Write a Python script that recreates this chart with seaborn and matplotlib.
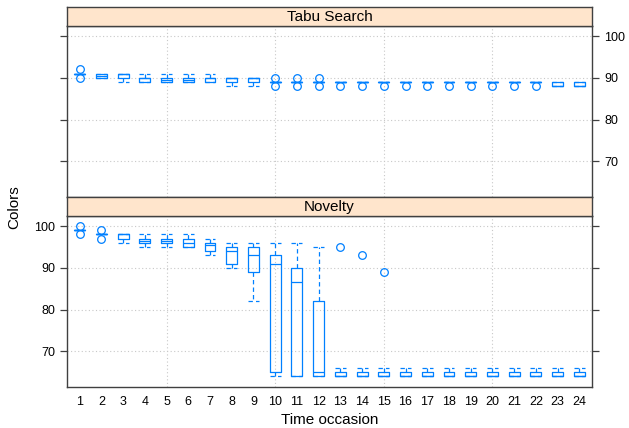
import matplotlib
matplotlib.use("Agg")
import matplotlib.pyplot as plt
import seaborn as sns
import pandas as pd

# Colors reached by ten runs at each time occasion
occasions = list(range(1, 25))

tabu_runs = [
    [90, 91, 91, 91, 91, 91, 91, 91, 91, 92],
    [90, 90, 90, 90, 90, 91, 91, 91, 91, 91],
    [89, 90, 90, 90, 91, 91, 91, 91, 91, 91],
    [89, 89, 89, 89, 90, 90, 90, 90, 90, 91],
    [89, 89, 89, 89, 89, 90, 90, 90, 90, 91],
    [89, 89, 89, 89, 89, 90, 90, 90, 90, 91],
    [89, 89, 89, 89, 90, 90, 90, 90, 90, 91],
    [88, 89, 89, 89, 90, 90, 90, 90, 90, 90],
    [88, 89, 89, 89, 90, 90, 90, 90, 90, 90],
    [88, 89, 89, 89, 89, 89, 89, 89, 89, 90],
    [88, 89, 89, 89, 89, 89, 89, 89, 89, 90],
    [88, 89, 89, 89, 89, 89, 89, 89, 89, 90],
    [88, 89, 89, 89, 89, 89, 89, 89, 89, 89],
    [88, 89, 89, 89, 89, 89, 89, 89, 89, 89],
    [88, 89, 89, 89, 89, 89, 89, 89, 89, 89],
    [88, 89, 89, 89, 89, 89, 89, 89, 89, 89],
    [88, 89, 89, 89, 89, 89, 89, 89, 89, 89],
    [88, 89, 89, 89, 89, 89, 89, 89, 89, 89],
    [88, 89, 89, 89, 89, 89, 89, 89, 89, 89],
    [88, 89, 89, 89, 89, 89, 89, 89, 89, 89],
    [88, 89, 89, 89, 89, 89, 89, 89, 89, 89],
    [88, 89, 89, 89, 89, 89, 89, 89, 89, 89],
    [88, 88, 88, 88, 88, 88, 89, 89, 89, 89],
    [88, 88, 88, 88, 88, 88, 89, 89, 89, 89],
]

novelty_runs = [
    [98, 99, 99, 99, 99, 99, 99, 99, 99, 100],
    [97, 98, 98, 98, 98, 98, 98, 98, 98, 99],
    [96, 97, 97, 97, 98, 98, 98, 98, 98, 98],
    [95, 96, 96, 96, 96, 97, 97, 97, 97, 98],
    [95, 96, 96, 96, 96, 97, 97, 97, 97, 98],
    [95, 95, 95, 95, 96, 96, 97, 97, 97, 98],
    [93, 94, 94, 94, 95, 96, 96, 96, 96, 97],
    [90, 91, 91, 91, 94, 94, 95, 95, 95, 96],
    [82, 89, 89, 89, 93, 93, 95, 95, 95, 96],
    [64, 65, 65, 65, 91, 91, 93, 93, 93, 96],
    [64, 64, 64, 64, 86, 87, 90, 90, 90, 96],
    [64, 64, 64, 64, 65, 65, 82, 82, 82, 95],
    [64, 64, 64, 64, 64, 64, 65, 65, 66, 95],
    [64, 64, 64, 64, 64, 64, 65, 65, 66, 93],
    [64, 64, 64, 64, 64, 64, 65, 65, 66, 89],
    [64, 64, 64, 64, 64, 64, 65, 65, 65, 66],
    [64, 64, 64, 64, 64, 64, 65, 65, 65, 66],
    [64, 64, 64, 64, 64, 64, 65, 65, 65, 66],
    [64, 64, 64, 64, 64, 64, 65, 65, 65, 66],
    [64, 64, 64, 64, 64, 64, 65, 65, 65, 66],
    [64, 64, 64, 64, 64, 64, 65, 65, 65, 66],
    [64, 64, 64, 64, 64, 64, 65, 65, 65, 66],
    [64, 64, 64, 64, 64, 64, 65, 65, 65, 66],
    [64, 64, 64, 64, 64, 64, 65, 65, 65, 66],
]

panel_titles = ["Tabu Search", "Novelty"]
y_ticks = [70, 80, 90, 100]
x_grid = [5, 10, 15, 20]
x_label = "Time occasion"
y_label = "Colors"

sns.set_theme(style="white")
plt.rcParams["font.family"] = ["Liberation Sans", "DejaVu Sans"]

BLUE = "#0080FF"
FRAME = "#404040"
STRIP = "#FFE5CC"
GRID = "#C8C8C8"


def to_frame(runs):
    rows = [(occ, v) for occ, vals in zip(occasions, runs) for v in vals]
    return pd.DataFrame(rows, columns=["occasion", "colors"])


fig = plt.figure(figsize=(6.29, 4.28), dpi=100)
W, H = 629.0, 428.0
left = 66.7 / W
width = (592.3 - 66.7) / W

panels = [
    (tabu_runs, 25.7, 196.7, 7.3),      # data, panel top, panel bottom, strip top (px)
    (novelty_runs, 215.7, 386.7, 196.7),
]

dash = (0, (3.5, 2.5))

for i, (runs, top_px, bot_px, strip_top) in enumerate(panels):
    ax = fig.add_axes([left, 1 - bot_px / H, width, (bot_px - top_px) / H])
    df = to_frame(runs)

    for g in x_grid:
        ax.axvline(g, color=GRID, lw=0.8, ls=(0, (1, 2.2)), zorder=0)
    for t in y_ticks:
        ax.axhline(t, color=GRID, lw=0.8, ls=(0, (1, 2.2)), zorder=0)

    sns.boxplot(
        data=df, x="occasion", y="colors", native_scale=True,
        width=0.5, fill=False, color=BLUE, linewidth=0.9, whis=1.5,
        capwidths=0.5,
        boxprops=dict(color=BLUE, linewidth=0.9),
        medianprops=dict(color=BLUE, linewidth=0.9),
        whiskerprops=dict(color=BLUE, linewidth=0.9, linestyle=dash),
        capprops=dict(color=BLUE, linewidth=0.9, linestyle=dash),
        flierprops=dict(marker="o", markersize=5.5, markerfacecolor="none",
                        markeredgecolor=BLUE, markeredgewidth=0.9),
        ax=ax,
    )

    ax.set_xlim(0.4, 24.6)
    ax.set_ylim(61.5, 102.5)
    ax.set_xticks(occasions)
    ax.set_xticklabels([str(o) for o in occasions])
    ax.set_yticks(y_ticks)
    ax.set_xlabel("")
    ax.set_ylabel("")
    for s in ax.spines.values():
        s.set_color(FRAME)
        s.set_linewidth(1.0)

    ax.tick_params(axis="y", which="both", direction="out", length=5,
                   width=0.9, color=FRAME, labelsize=9, labelcolor="black",
                   pad=3.5, left=True, right=True)
    ax.tick_params(axis="x", length=0, labelsize=9, pad=7, labelcolor="black")
    if i == 0:
        ax.tick_params(axis="y", labelleft=False, labelright=True)
        ax.tick_params(axis="x", labelbottom=False)
    else:
        ax.tick_params(axis="y", labelleft=True, labelright=False)
        ax.tick_params(axis="x", labelbottom=True)

    # strip with the panel title
    sax = fig.add_axes([left, 1 - top_px / H, width, (top_px - strip_top) / H])
    sax.set_facecolor(STRIP)
    sax.set_xticks([])
    sax.set_yticks([])
    for s in sax.spines.values():
        s.set_color(FRAME)
        s.set_linewidth(1.0)
    sax.text(0.5, 0.45, panel_titles[i], ha="center", va="center",
             fontsize=11, color="black", transform=sax.transAxes)

fig.text(22 / W * 0 + 0.022, 1 - 207 / H, y_label, rotation=90, ha="center",
         va="center", fontsize=11, color="black")
fig.text(329.5 / W, 1 - 420 / H, x_label, ha="center", va="center",
         fontsize=11, color="black")

fig.savefig("out.png", dpi=100, facecolor="white")
